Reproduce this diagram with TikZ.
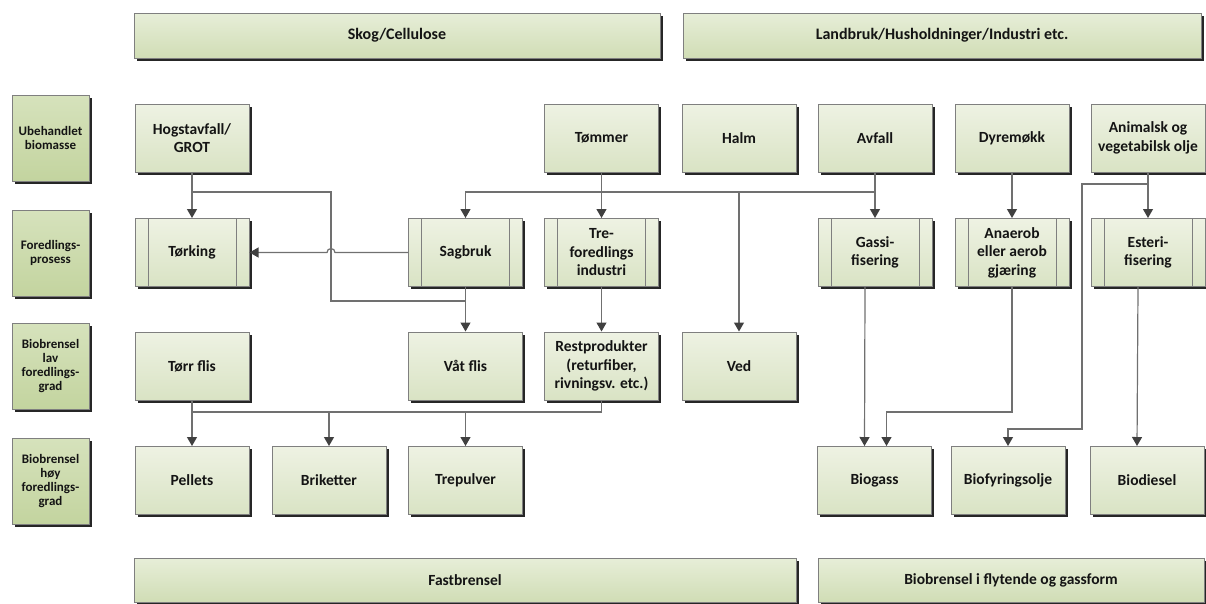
\documentclass[tikz,border=0pt]{standalone}
\usepackage{fontspec}
\setmainfont{Carlito}
\usepackage{tikz}
\usetikzlibrary{arrows.meta,calc,shadows}
\definecolor{bio-top}{HTML}{EEF2E3}
\definecolor{bio-bot}{HTML}{D9E3C4}
\definecolor{bio-lab}{HTML}{D6E2BC}
\definecolor{bio-labbot}{HTML}{C3D49F}
\definecolor{bio-head}{HTML}{E7EED8}
\definecolor{bio-headbot}{HTML}{D0DDB5}
\definecolor{bio-edge}{HTML}{7F7F7F}
\definecolor{bio-line}{HTML}{707070}
\definecolor{bio-tip}{HTML}{404040}

\begin{document}
\begin{tikzpicture}[x=1pt,y=-1pt,
  boks/.style={draw=bio-edge,line width=1pt,top color=bio-top,bottom color=bio-bot,
    drop shadow={shadow xshift=2.5pt,shadow yshift=-2.5pt,fill=black!85,opacity=1},
    minimum width=114pt,minimum height=68pt,inner sep=2pt,align=center,
    font=\fontsize{15.5}{18.5}\selectfont\bfseries,text=black!92},
  prosess/.style={boks,path picture={
    \draw[bio-edge,line width=1pt]
      ([xshift=13pt]path picture bounding box.north west) -- ([xshift=13pt]path picture bounding box.south west)
      ([xshift=-13pt]path picture bounding box.north east) -- ([xshift=-13pt]path picture bounding box.south east);}},
  etikett/.style={boks,top color=bio-lab,bottom color=bio-labbot,minimum width=77pt,
    minimum height=86pt,font=\fontsize{13}{14}\selectfont\bfseries},
  topp/.style={boks,top color=bio-head,bottom color=bio-headbot,minimum height=45pt,
    font=\fontsize{16}{18}\selectfont\bfseries},
  lin/.style={draw=bio-line,line width=1.2pt},
  pil/.style={lin,-{Triangle[length=9pt,width=10pt,color=bio-tip]}}]
  \useasboundingbox (0,0) rectangle (1206,603);

  % Overskrifter
  \node[topp,minimum width=526pt] (skog) at (397,35.5) {Skog/Cellulose};
  \node[topp,minimum width=518pt] (land) at (942,35.5) {Landbruk/Husholdninger/Industri etc.};
  % Rader til venstre
  \node[etikett] (lab1) at (50.5,138) {Ubehandlet\\biomasse};
  \node[etikett] (lab2) at (50.5,253) {Foredlings-\\prosess};
  \node[etikett] (lab3) at (50.5,366) {Biobrensel\\lav\\foredlings-\\grad};
  \node[etikett] (lab4) at (50.5,481) {Biobrensel\\høy\\foredlings-\\grad};

  % Ubehandlet biomasse
  \node[boks] (hog) at (192,138) {Hogstavfall/\\GROT};
  \node[boks] (tom) at (601.5,138) {Tømmer};
  \node[boks] (halm) at (739,138) {Halm};
  \node[boks] (avf) at (875,138) {Avfall};
  \node[boks] (dyr) at (1012,138) {Dyremøkk};
  \node[boks] (ani) at (1148,138) {Animalsk og\\vegetabilsk olje};
  % Foredlingsprosess
  \node[prosess] (tork) at (192,252.5) {Tørking};
  \node[prosess] (sag) at (465.5,252.5) {Sagbruk};
  \node[prosess] (tref) at (601.5,252.5) {Tre-\\foredlings\\industri};
  \node[prosess] (gas) at (875,252.5) {Gassi-\\fisering};
  \node[prosess] (ana) at (1012,252.5) {Anaerob\\eller aerob\\gjæring};
  \node[prosess] (est) at (1148,252.5) {Esteri-\\fisering};
  % Lav foredlingsgrad
  \node[boks] (torr) at (192,366) {Tørr flis};
  \node[boks] (vat) at (465.5,366) {Våt flis};
  \node[boks] (rest) at (601.5,366) {Restprodukter\\(returfiber,\\rivningsv. etc.)};
  \node[boks] (ved) at (739,366) {Ved};
  % Høy foredlingsgrad
  \node[boks] (pel) at (192,480.5) {Pellets};
  \node[boks] (bri) at (329,480.5) {Briketter};
  \node[boks] (trep) at (465.5,480.5) {Trepulver};
  \node[boks] (biog) at (874.5,480.5) {Biogass};
  \node[boks] (biof) at (1008,480.5) {Biofyringsolje};
  \node[boks] (biod) at (1147,480.5) {Biodiesel};

  % Bunntekster
  \node[topp,minimum width=662pt,minimum height=44pt,font=\fontsize{15.5}{18}\selectfont\bfseries] (fast) at (465,580) {Fastbrensel};
  \node[topp,minimum width=386pt,minimum height=44pt,font=\fontsize{15.5}{18}\selectfont\bfseries] (flyt) at (1011,580) {Biobrensel i flytende og gassform};

  % Skinner for linjene
  \coordinate (skinne) at (0,192);
  \coordinate (skinne2) at (0,412);
  \coordinate (skinne3) at (0,429);
  \coordinate (hopp) at (331,301);
  \coordinate (olje) at (1082,184);

  % Skog
  \draw[pil] (hog) -- (tork);
  \draw[lin] (hog.south |- skinne) -| (hopp) -- (hopp -| sag.south);
  \draw[pil] (sag.west) -- ([xshift=4]hopp |- sag.west) arc[start angle=0,end angle=-180,radius=4] -- (tork.east);
  \draw[pil] (tom) -- (tref);
  \draw[pil] (avf.south) |- (sag.north |- skinne) -- (sag.north);
  \draw[pil] (ved.north |- skinne) -- (ved);
  \draw[pil] (sag) -- (vat);
  \draw[pil] (tref) -- (rest);
  \draw[pil] (torr) -- (pel);
  \draw[lin] (rest.south) |- (skinne2 -| torr.south);
  \draw[pil] (bri.north |- skinne2) -- (bri);
  \draw[pil] (trep.north |- skinne2) -- (trep);
  % Landbruk
  \draw[pil] (avf) -- (gas);
  \draw[pil] (dyr) -- (ana);
  \draw[pil] (ani) -- (est);
  \draw[pil] ([xshift=-10]gas.south) -- ([xshift=-10]biog.north);
  \draw[pil] (ana.south) |- ([xshift=12]skinne2 -| biog.north) -- ([xshift=12]biog.north);
  \draw[pil] (ani.south) |- (olje) |- (skinne3 -| biof.north) -- (biof.north);
  \draw[pil] ([xshift=-10]est.south) -- ([xshift=-10]biod.north);
\end{tikzpicture}
\end{document}
